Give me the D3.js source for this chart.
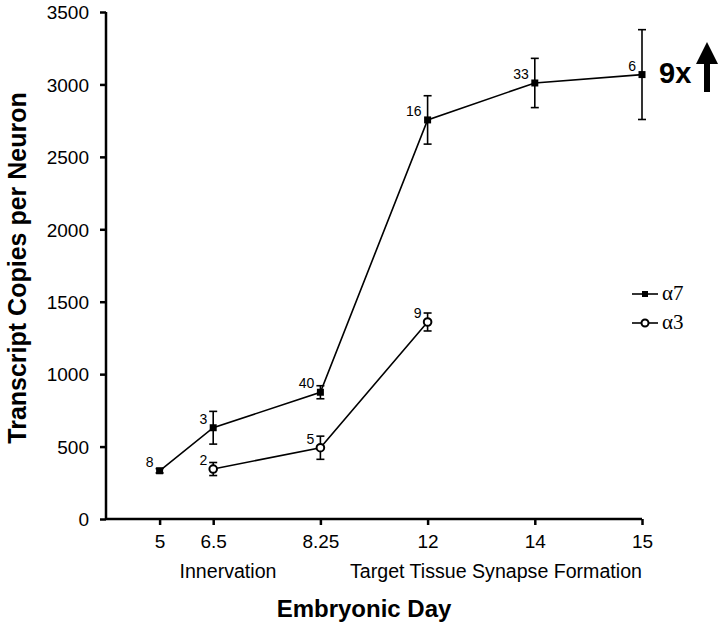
<!DOCTYPE html>
<html>
  <head>
    <meta charset="utf-8">
    <title>Transcript copies per neuron</title>
    <script src="https://d3js.org/d3.v7.min.js"></script>
    <style>
      body { margin: 0; background: #fff; }
      svg { display: block; }
      text { font-family: "Liberation Sans", Arial, sans-serif; fill: #000; }
    </style>
  </head>
  <body>
    <svg id="canvas" width="720" height="626"></svg>
    <script>
      // categories on the x axis (unevenly placed slots, as in the original figure)
      const days = ["5", "6.5", "8.25", "12", "14", "15"];
      const daySlot = [0.5, 1, 2, 3, 4, 5];
      const yTicks = [0, 500, 1000, 1500, 2000, 2500, 3000, 3500];

      // alpha7 series
      const a7Days = ["5", "6.5", "8.25", "12", "14", "15"];
      const a7Mean = [333, 630, 875, 2755, 3010, 3068];
      const a7Err = [15, 113, 45, 167, 170, 310];
      const a7N = [8, 3, 40, 16, 33, 6];

      // alpha3 series
      const a3Days = ["6.5", "8.25", "12"];
      const a3Mean = [345, 492, 1360];
      const a3Err = [45, 80, 62];
      const a3N = [2, 5, 9];

      const canvas = d3.select("#canvas");

      const x = d3.scaleLinear().domain([0, 5]).range([106, 642]);
      const y = d3.scaleLinear().domain([0, 3500]).range([519, 12]);
      const slotOf = function(day) { return daySlot[days.indexOf(day)]; };

      // axes
      const yAxis = canvas.append("g")
        .attr("transform", "translate(106,0)")
        .call(d3.axisLeft(y).tickValues(yTicks).tickSize(6).tickPadding(11).tickFormat(d3.format("d")));
      yAxis.select(".domain").attr("d", "M0," + y(3500) + "V" + y(0));
      yAxis.selectAll("path, line").attr("stroke", "#000").attr("stroke-width", 2.5);
      yAxis.selectAll("text").style("font-size", "19px").attr("dy", "0.36em");

      const xAxis = canvas.append("g")
        .attr("transform", "translate(0,519)")
        .call(d3.axisBottom(x).tickValues(daySlot).tickSize(6).tickPadding(10)
          .tickFormat(function(d, i) { return days[i]; }));
      xAxis.select(".domain").attr("d", "M" + x(0) + ",0H" + x(5));
      xAxis.selectAll("path, line").attr("stroke", "#000").attr("stroke-width", 2.5);
      xAxis.selectAll("text").style("font-size", "19px").attr("dy", "0.71em");

      // axis titles
      canvas.append("text")
        .attr("transform", "translate(26,268) rotate(-90)")
        .attr("text-anchor", "middle")
        .style("font-size", "25px").style("font-weight", "bold")
        .text("Transcript Copies per Neuron");
      canvas.append("text")
        .attr("x", 364).attr("y", 617)
        .attr("text-anchor", "middle")
        .style("font-size", "24px").style("font-weight", "bold")
        .text("Embryonic Day");
      canvas.append("text")
        .attr("x", 228).attr("y", 578)
        .attr("text-anchor", "middle")
        .style("font-size", "19.6px")
        .text("Innervation");
      canvas.append("text")
        .attr("x", 496).attr("y", 578)
        .attr("text-anchor", "middle")
        .style("font-size", "19.6px")
        .text("Target Tissue Synapse Formation");

      function drawSeries(dayList, mean, err, nList, marker) {
        const data = dayList.map(function(d, i) {
          return { day: d, mean: mean[i], err: err[i], n: nList[i] };
        });
        const g = canvas.append("g");
        const line = d3.line()
          .x(function(d) { return x(slotOf(d.day)); })
          .y(function(d) { return y(d.mean); });
        g.append("path")
          .datum(data)
          .attr("d", line)
          .attr("fill", "none")
          .attr("stroke", "#000")
          .attr("stroke-width", 1.6);
        // error bars
        const bars = g.selectAll(".err")
          .data(data)
          .enter().append("g");
        bars.append("line")
          .attr("x1", function(d) { return x(slotOf(d.day)); })
          .attr("x2", function(d) { return x(slotOf(d.day)); })
          .attr("y1", function(d) { return y(d.mean + d.err); })
          .attr("y2", function(d) { return y(d.mean - d.err); });
        bars.append("line")
          .attr("x1", function(d) { return x(slotOf(d.day)) - 4; })
          .attr("x2", function(d) { return x(slotOf(d.day)) + 4; })
          .attr("y1", function(d) { return y(d.mean + d.err); })
          .attr("y2", function(d) { return y(d.mean + d.err); });
        bars.append("line")
          .attr("x1", function(d) { return x(slotOf(d.day)) - 4; })
          .attr("x2", function(d) { return x(slotOf(d.day)) + 4; })
          .attr("y1", function(d) { return y(d.mean - d.err); })
          .attr("y2", function(d) { return y(d.mean - d.err); });
        bars.selectAll("line").attr("stroke", "#000").attr("stroke-width", 1.6);
        // markers
        if (marker == "square") {
          g.selectAll(".pt")
            .data(data)
            .enter().append("rect")
              .attr("x", function(d) { return x(slotOf(d.day)) - 3.5; })
              .attr("y", function(d) { return y(d.mean) - 3.5; })
              .attr("width", 7).attr("height", 7)
              .attr("fill", "#000");
        } else {
          g.selectAll(".pt")
            .data(data)
            .enter().append("circle")
              .attr("cx", function(d) { return x(slotOf(d.day)); })
              .attr("cy", function(d) { return y(d.mean); })
              .attr("r", 3.8)
              .attr("fill", "#fff")
              .attr("stroke", "#000")
              .attr("stroke-width", 2);
        }
        // n labels
        g.selectAll(".n")
          .data(data)
          .enter().append("text")
            .attr("x", function(d) { return x(slotOf(d.day)) - 6; })
            .attr("y", function(d) { return y(d.mean) - 4; })
            .attr("text-anchor", "end")
            .style("font-size", "14px")
            .text(function(d) { return d.n; });
      }

      drawSeries(a7Days, a7Mean, a7Err, a7N, "square");
      drawSeries(a3Days, a3Mean, a3Err, a3N, "circle");

      // legend
      const legend = canvas.append("g");
      [["square", "\u03b17", 294], ["circle", "\u03b13", 323]].forEach(function(item) {
        legend.append("line")
          .attr("x1", 632).attr("x2", 658)
          .attr("y1", item[2]).attr("y2", item[2])
          .attr("stroke", "#000").attr("stroke-width", 1.6);
        if (item[0] == "square") {
          legend.append("rect")
            .attr("x", 642).attr("y", item[2] - 3)
            .attr("width", 6).attr("height", 6)
            .attr("fill", "#000");
        } else {
          legend.append("circle")
            .attr("cx", 645).attr("cy", item[2])
            .attr("r", 3.5)
            .attr("fill", "#fff").attr("stroke", "#000").attr("stroke-width", 2);
        }
        legend.append("text")
          .attr("x", 662).attr("y", item[2] + 6)
          .style("font-family", "'Liberation Serif', 'Times New Roman', serif")
          .style("font-size", "21px")
          .text(item[1]);
      });

      // fold-change annotation
      canvas.append("text")
        .attr("x", 659).attr("y", 83)
        .style("font-size", "29px").style("font-weight", "bold")
        .text("9x");
      canvas.append("path")
        .attr("d", "M707,42 L718,64 L710,64 L710,92 L704,92 L704,64 L696,64 Z")
        .attr("fill", "#000");
    </script>
  </body>
</html>
